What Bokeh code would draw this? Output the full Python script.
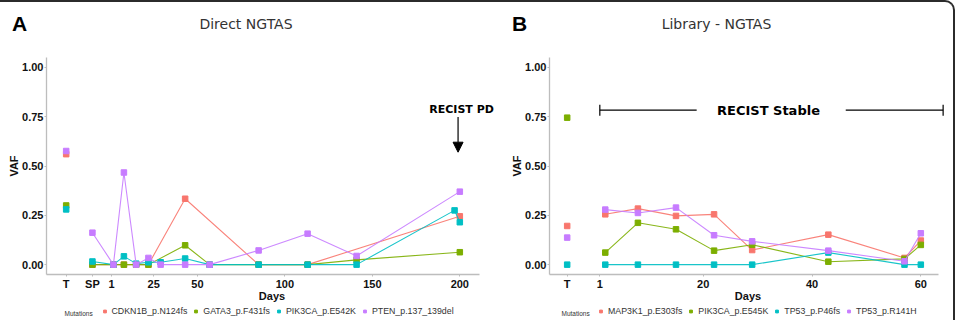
import numpy as np
from bokeh.plotting import figure
from bokeh.models import (ColumnDataSource, FixedTicker, Label, Arrow, NormalHead,
                          TeeHead, Legend, LegendItem, Range1d, Div)
from bokeh.layouts import row, column
from bokeh.embed import file_html
from bokeh.resources import INLINE

# ---------------- data ----------------
colors = ["#F8766D", "#7CAE00", "#00BFC4", "#C77CFF"]

# Panel A : Direct NGTAS
a_mutations = ["CDKN1B_p.N124fs", "GATA3_p.F431fs", "PIK3CA_p.E542K", "PTEN_p.137_139del"]
a_tick_pos = [-25, -10, 1, 25, 50, 100, 150, 200]
a_tick_lab = ["T", "SP", "1", "25", "50", "100", "150", "200"]
a_T_day = -25
a_T_vaf = [0.56, 0.30, 0.28, 0.576]
a_cdkn1b_days = [-10, 2, 8, 15, 22, 43, 85, 113, 200]
a_cdkn1b_vaf = [0, 0, 0, 0, 0, 0.334, 0, 0, 0.245]
a_gata3_days = [-10, 2, 8, 15, 22, 43, 57, 85, 113, 141, 200]
a_gata3_vaf = [0, 0, 0, 0, 0, 0.098, 0, 0, 0, 0.024, 0.063]
a_pik3ca_days = [-10, 2, 8, 15, 22, 29, 43, 57, 85, 113, 141, 197, 200]
a_pik3ca_vaf = [0.016, 0, 0.042, 0.005, 0.012, 0.012, 0.031, 0, 0, 0, 0, 0.275, 0.215]
a_pten_days = [-10, 2, 8, 15, 22, 29, 43, 57, 85, 113, 141, 200]
a_pten_vaf = [0.162, 0, 0.467, 0, 0.034, 0, 0, 0, 0.072, 0.157, 0.044, 0.37]

# Panel B : Library - NGTAS
b_mutations = ["MAP3K1_p.E303fs", "PIK3CA_p.E545K", "TP53_p.P46fs", "TP53_p.R141H"]
b_tick_pos = [-5, 1, 20, 40, 60]
b_tick_lab = ["T", "1", "20", "40", "60"]
b_T_day = -5
b_T_vaf = [0.196, 0.745, 0.0, 0.137]
b_days = [2, 8, 15, 22, 29, 43, 57, 60]
b_map3k1_vaf = [0.255, 0.284, 0.247, 0.255, 0.074, 0.152, 0.034, 0.122]
b_pik3ca_vaf = [0.061, 0.212, 0.179, 0.071, 0.101, 0.015, 0.029, 0.10]
b_tp53p46_vaf = [0, 0, 0, 0, 0, 0.061, 0, 0]
b_tp53r141_vaf = [0.279, 0.262, 0.289, 0.149, 0.118, 0.071, 0.017, 0.159]

y_ticks = [0, 0.25, 0.5, 0.75, 1.0]
y_tick_lab = ["0.00", "0.25", "0.50", "0.75", "1.00"]

TICK_FONT = "Liberation Sans"
TITLE_FONT = "DejaVu Sans"

FIG_H = 247     # main figure: canvas y 57 -> 304
FRAME_H = 217   # frame: canvas y 57 -> 274
LEG_H = 16      # legend strip: canvas y 304 -> 320


def make_panel(width, left, right, xr, axis_bounds, tick_pos, tick_lab, series,
               T_day, T_vaf):
    p = figure(width=width, height=FIG_H, x_range=Range1d(*xr), y_range=Range1d(-0.05, 1.05),
               output_backend="svg", toolbar_location=None,
               min_border_left=left, min_border_right=right,
               min_border_top=0, min_border_bottom=FIG_H - FRAME_H)
    p.outline_line_color = None
    p.xgrid.visible = False
    p.ygrid.visible = False
    p.background_fill_color = "white"
    p.border_fill_color = "white"

    for ax in (p.xaxis[0], p.yaxis[0]):
        ax.axis_line_color = "#bdbdbd"
        ax.axis_line_width = 1.3
        ax.major_tick_line_color = "#bdbdbd"
        ax.major_tick_out = 2
        ax.major_tick_in = 0
        ax.minor_tick_line_color = None
        ax.major_label_text_font = TICK_FONT
        ax.major_label_text_font_style = "bold"
        ax.major_label_text_font_size = "11px"
        ax.major_label_text_color = "#111111"
        ax.major_label_standoff = 1
        ax.axis_label_text_font = TICK_FONT
        ax.axis_label_text_font_style = "bold"
        ax.axis_label_text_font_size = "11px"
        ax.axis_label_text_color = "#111111"
    p.xaxis.axis_label_standoff = -3
    p.yaxis.axis_label_standoff = -1
    p.xaxis.bounds = axis_bounds
    p.xaxis.ticker = FixedTicker(ticks=tick_pos)
    p.xaxis.major_label_overrides = {t: l for t, l in zip(tick_pos, tick_lab)}
    p.xaxis.axis_label = "Days"
    p.yaxis.ticker = FixedTicker(ticks=y_ticks)
    p.yaxis.major_label_overrides = {t: l for t, l in zip(y_ticks, y_tick_lab)}
    p.yaxis.axis_label = "VAF"

    for (days, vals), c in zip(series, colors):
        src = ColumnDataSource(dict(x=days, y=vals))
        p.line("x", "y", source=src, line_color=c, line_width=1.1, line_alpha=0.9)
        p.scatter("x", "y", source=src, marker="square", size=5.5, fill_color=c, line_color=c)
    for v, c in zip(T_vaf, colors):
        src = ColumnDataSource(dict(x=[T_day], y=[v]))
        p.scatter("x", "y", source=src, marker="square", size=5.5, fill_color=c, line_color=c)
    return p


def make_legend_strip(width, mutations, mut_x, glyph_x):
    q = figure(width=width, height=LEG_H, x_range=Range1d(0, 1), y_range=Range1d(0, 1),
               output_backend="svg", toolbar_location=None,
               x_axis_location=None, y_axis_location=None,
               min_border_left=0, min_border_right=0, min_border_top=0, min_border_bottom=0)
    q.outline_line_color = None
    q.xgrid.visible = False
    q.ygrid.visible = False
    items = []
    for c, name in zip(colors, mutations):
        # legend key proxy: a single NaN point, never drawn in the strip itself
        src = ColumnDataSource(dict(x=np.array([np.nan]), y=np.array([np.nan])))
        r = q.scatter("x", "y", source=src, marker="square", size=5.5,
                      fill_color=c, line_color=c)
        items.append(LegendItem(label=name, renderers=[r]))
    leg = Legend(items=items, orientation="horizontal", location=(glyph_x, 4),
                 padding=0, margin=0, border_line_color=None, background_fill_alpha=0,
                 glyph_width=7, glyph_height=8, label_height=10, label_standoff=4,
                 spacing=5, label_text_font=TICK_FONT, label_text_font_size="8.8px",
                 label_text_color="#333333")
    q.add_layout(leg, "center")
    q.add_layout(Label(x=mut_x, y=7, x_units="screen", y_units="screen",
                       text="Mutations", text_font=TICK_FONT, text_font_size="6.5px",
                       text_color="#333333", text_baseline="alphabetic"))
    return q


# panel A frame: canvas x 46 -> 497 (axis line drawn only to day 211.25)
pa = make_panel(497, 46, 0, (-36.25, 221.54), (-36.25, 211.25), a_tick_pos, a_tick_lab,
                [(a_cdkn1b_days, a_cdkn1b_vaf), (a_gata3_days, a_gata3_vaf),
                 (a_pik3ca_days, a_pik3ca_vaf), (a_pten_days, a_pten_vaf)],
                a_T_day, a_T_vaf)

# panel B frame: canvas x 549 -> 946 (axis line drawn only to day 63.25)
pb = make_panel(456, 52, 7, (-8.25, 64.72), (-8.25, 63.25), b_tick_pos, b_tick_lab,
                [(b_days, b_map3k1_vaf), (b_days, b_pik3ca_vaf),
                 (b_days, b_tp53p46_vaf), (b_days, b_tp53r141_vaf)],
                b_T_day, b_T_vaf)

la = make_legend_strip(497, a_mutations, 64, 100.5)
lb = make_legend_strip(456, b_mutations, 561 - 497, 597 - 497)

# RECIST PD arrow (panel A)
pa.add_layout(Arrow(end=NormalHead(size=10, fill_color="black", line_color="black"),
                    x_start=199, y_start=0.748, x_end=199, y_end=0.57,
                    line_color="black", line_width=1.2))
pa.add_layout(Label(x=201, y=0.787, text="RECIST PD", text_font=TITLE_FONT,
                    text_font_style="bold", text_font_size="11px", text_color="black",
                    text_align="center", text_baseline="middle"))

# RECIST Stable bracket (panel B)
pb.add_layout(Arrow(start=TeeHead(size=11, line_color="black", line_width=1.2), end=None,
                    x_start=1, y_start=0.783, x_end=18.8, y_end=0.783,
                    line_color="black", line_width=1.2))
pb.add_layout(Arrow(start=None, end=TeeHead(size=11, line_color="black", line_width=1.2),
                    x_start=46.2, y_start=0.783, x_end=64.1, y_end=0.783,
                    line_color="black", line_width=1.2))
pb.add_layout(Label(x=32, y=0.783, text="RECIST Stable", text_font=TITLE_FONT,
                    text_font_style="bold", text_font_size="13px", text_color="black",
                    text_align="center", text_baseline="middle"))

header_html = """
<div style="position:relative;width:953px;height:55px;margin:0;padding:0;">
 <div style="position:absolute;left:12px;top:11px;font-family:'Liberation Sans';font-weight:bold;font-size:21px;line-height:21px;color:#000;">A</div>
 <div style="position:absolute;left:146px;top:14.5px;width:200px;text-align:center;font-family:'DejaVu Sans';font-size:14px;line-height:14px;color:#333;">Direct NGTAS</div>
 <div style="position:absolute;left:512px;top:11px;font-family:'Liberation Sans';font-weight:bold;font-size:21px;line-height:21px;color:#000;">B</div>
 <div style="position:absolute;left:616.5px;top:14.5px;width:200px;text-align:center;font-family:'DejaVu Sans';font-size:14px;line-height:14px;color:#333;">Library - NGTAS</div>
</div>
"""
header = Div(text=header_html, width=953, height=55, margin=0)

layout = column(header, row(pa, pb), row(la, lb),
                styles={"border-top": "2px solid #2b2b2b",
                        "border-right": "2px solid #2b2b2b",
                        "border-top-right-radius": "10px"})

open("out.html", "w").write(file_html(layout, INLINE))
